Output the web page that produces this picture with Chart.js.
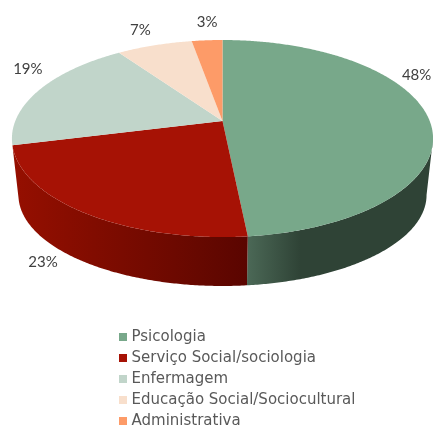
<!DOCTYPE html>
<html><head><meta charset="utf-8">
<style>html,body{margin:0;padding:0;background:#fff}canvas{display:block}</style>
<script src="https://cdn.jsdelivr.net/npm/chart.js@4"></script>
</head><body><canvas id="c" width="433" height="427"></canvas>
<script>
const categories = ['Psicologia','Serviço Social/sociologia','Enfermagem','Educação Social/Sociocultural','Administrativa'];
const values = [48.4,22.7,19.2,6.9,2.8];
const colors = ['#78A88A','#A61205','#C1D5CA','#F8DFCC','#FD9B68'];
const labelNudge = [[-11,-41],[-40,50],[-12,-20],[-14,-15],[0,-18]];
const sideStops = {0:[[248,'#4B6856'],[300,'#2F4336'],[433,'#2F4336']],1:[[15,'#950F00'],[200,'#660800'],[248,'#5A0500']]};
const P = 0.178;
const topDisc = {cx:222.5,y0:121,A:207.2,B:95.4};
const baseDisc = {cx:222.5,y0:178.8,A:200.8,B:88.1};
function pt(d,t){const u=Math.sin(t),v=Math.cos(t),w=1+P*v;return [d.cx+d.A*u/w,d.y0-d.B*v/w];}
const pie3d = {
  id:'pie3d',
  afterLayout(chart){const l=chart.legend;l.left=116;l.top=323.5;l.bottom=chart.height+200;},
  beforeDatasetsDraw(chart){
    const ctx=chart.ctx, arcs=chart.getDatasetMeta(0).data, step=Math.PI/360, ext=Math.acos(-P);
    arcs.forEach((a,i)=>{
      const s=Math.max(a.startAngle+Math.PI/2,ext), e=Math.min(a.endAngle+Math.PI/2,2*Math.PI-ext);
      if(e<=s||!sideStops[i])return;
      const g=ctx.createLinearGradient(0,0,433,0);
      sideStops[i].forEach(([x,c])=>g.addColorStop(x/433,c));
      ctx.beginPath();
      for(let t=s;t<e;t+=step){const p=pt(topDisc,t);ctx.lineTo(p[0],p[1]);}
      let p=pt(topDisc,e);ctx.lineTo(p[0],p[1]);
      p=pt(baseDisc,e);ctx.lineTo(p[0],p[1]);
      for(let t=e;t>s;t-=step){const q=pt(baseDisc,t);ctx.lineTo(q[0],q[1]);}
      p=pt(baseDisc,s);ctx.lineTo(p[0],p[1]);
      ctx.closePath();ctx.fillStyle=g;ctx.fill();
    });
    arcs.forEach((a,i)=>{
      const s=a.startAngle+Math.PI/2,e=a.endAngle+Math.PI/2;
      ctx.beginPath();ctx.moveTo(topDisc.cx,topDisc.y0);
      for(let t=s;t<e;t+=step){const p=pt(topDisc,t);ctx.lineTo(p[0],p[1]);}
      const p=pt(topDisc,e);ctx.lineTo(p[0],p[1]);
      ctx.closePath();ctx.fillStyle=colors[i];ctx.fill();
    });
    ctx.font='15px Lato';ctx.fillStyle='#404040';ctx.textAlign='center';ctx.textBaseline='middle';
    const total=values.reduce((x,y)=>x+y,0);
    arcs.forEach((a,i)=>{
      const m=(a.startAngle+a.endAngle)/2+Math.PI/2,p=pt(topDisc,m);
      ctx.fillText(Math.round(values[i]/total*100)+'%',p[0]+labelNudge[i][0],p[1]+labelNudge[i][1]);
    });
    return false;
  }
};
new Chart(document.getElementById('c'),{
  type:'pie',
  data:{labels:categories,datasets:[{data:values,backgroundColor:colors,borderWidth:0}]},
  options:{responsive:false,animation:false,layout:{padding:0},
    plugins:{tooltip:{enabled:false},
      legend:{position:'chartArea',align:'start',
        labels:{usePointStyle:true,pointStyle:'rect',boxWidth:2,boxHeight:8,padding:6,color:'#595959',font:{family:'"DejaVu Sans"',size:15}}}}},
  plugins:[pie3d]
});
</script></body></html>
